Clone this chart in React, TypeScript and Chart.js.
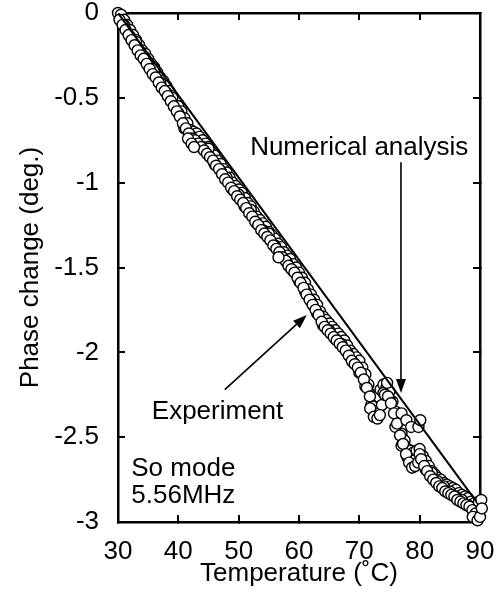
import React, { useEffect, useRef } from "react";
import { Chart, registerables } from "chart.js";

Chart.register(...registerables);

// ---- data ----
const xTickValues = [30, 40, 50, 60, 70, 80, 90];
const xTickLabels = ["30", "40", "50", "60", "70", "80", "90"];
const yTickValues = [0, -0.5, -1, -1.5, -2, -2.5, -3];
const yTickLabels = ["0", "-0.5", "-1", "-1.5", "-2", "-2.5", "-3"];

// Numerical analysis (straight line)
const numTemp = [30, 89.4];
const numPhase = [0, -2.88];

// Experiment (open circles) - upper run of readings
const expTempA = [
  30.0, 30.5, 31.0, 31.5, 32.0, 32.5, 33.0, 33.5, 34.0, 34.5,
  35.0, 35.5, 36.0, 36.5, 37.0, 37.5, 38.0, 38.5, 39.0, 39.5,
  40.0, 40.5, 41.0, 41.5, 42.0, 42.5, 43.0, 43.5, 44.0, 44.5,
  45.0, 45.5, 46.0, 46.5, 47.0, 47.5, 48.0, 48.5, 49.0, 49.5,
  50.0, 50.5, 51.0, 51.5, 52.0, 52.5, 53.0, 53.5, 54.0, 54.5,
  55.0, 55.5, 56.0, 56.5, 57.0, 57.5, 58.0, 58.5, 59.0, 59.5,
  60.0, 60.5, 61.0, 61.5, 62.0, 62.5, 63.0, 63.5, 64.0, 64.5,
  65.0, 65.5, 66.0, 66.5, 67.0, 67.5, 68.0, 68.5, 69.0, 69.5,
  70.0, 70.5, 71.0, 71.5, 72.0, 72.5, 73.0, 73.5, 74.0, 74.5,
  75.0, 75.5, 76.0, 76.5, 77.0, 77.5, 78.0, 78.5, 79.0, 79.5,
  80.0, 80.5, 81.0, 81.5, 82.0, 82.5, 83.0, 83.5, 84.0, 84.5,
  85.0, 85.5, 86.0, 86.5, 87.0, 87.5, 88.0, 88.5, 89.0, 89.5,
  90.0,
];
const expPhaseA = [
  0.0, -0.01, -0.04, -0.07, -0.1, -0.13, -0.16, -0.19, -0.22, -0.24,
  -0.27, -0.3, -0.32, -0.35, -0.38, -0.4, -0.43, -0.46, -0.49, -0.52,
  -0.55, -0.58, -0.62, -0.65, -0.69, -0.7, -0.71, -0.73, -0.75, -0.77,
  -0.79, -0.82, -0.84, -0.87, -0.89, -0.92, -0.94, -0.97, -1.0, -1.02,
  -1.04, -1.06, -1.09, -1.12, -1.14, -1.17, -1.2, -1.22, -1.24, -1.26,
  -1.29, -1.31, -1.33, -1.36, -1.38, -1.41, -1.43, -1.45, -1.48, -1.5,
  -1.53, -1.56, -1.59, -1.63, -1.66, -1.69, -1.72, -1.76, -1.79, -1.81,
  -1.83, -1.85, -1.87, -1.89, -1.91, -1.93, -1.96, -1.99, -2.01, -2.03,
  -2.05, -2.09, -2.13, -2.19, -2.25, -2.26, -2.26, -2.22, -2.19, -2.21,
  -2.23, -2.29, -2.35, -2.41, -2.48, -2.52, -2.57, -2.58, -2.59, -2.58,
  -2.57, -2.61, -2.64, -2.67, -2.7, -2.72, -2.74, -2.75, -2.77, -2.78,
  -2.79, -2.8, -2.81, -2.83, -2.84, -2.85, -2.86, -2.88, -2.89, -2.91,
  -2.93,
];

// Experiment - lower run of readings
const expTempB = [
  30.25, 30.75, 31.25, 31.75, 32.25, 32.75, 33.25, 33.75, 34.25, 34.75,
  35.25, 35.75, 36.25, 36.75, 37.25, 37.75, 38.25, 38.75, 39.25, 39.75,
  40.25, 40.75, 41.25, 41.75, 42.25, 42.75, 43.25, 43.75, 44.25, 44.75,
  45.25, 45.75, 46.25, 46.75, 47.25, 47.75, 48.25, 48.75, 49.25, 49.75,
  50.25, 50.75, 51.25, 51.75, 52.25, 52.75, 53.25, 53.75, 54.25, 54.75,
  55.25, 55.75, 56.25, 56.75, 57.25, 57.75, 58.25, 58.75, 59.25, 59.75,
  60.25, 60.75, 61.25, 61.75, 62.25, 62.75, 63.25, 63.75, 64.25, 64.75,
  65.25, 65.75, 66.25, 66.75, 67.25, 67.75, 68.25, 68.75, 69.25, 69.75,
  70.25, 70.75, 71.25, 71.75, 72.25, 72.75, 73.25, 73.75, 74.25, 74.75,
  75.25, 75.75, 76.25, 76.75, 77.25, 77.75, 78.25, 78.75, 79.25, 79.75,
  80.25, 80.75, 81.25, 81.75, 82.25, 82.75, 83.25, 83.75, 84.25, 84.75,
  85.25, 85.75, 86.25, 86.75, 87.25, 87.75, 88.25, 88.75, 89.25, 89.75,
];
const expPhaseB = [
  -0.04, -0.07, -0.1, -0.13, -0.16, -0.19, -0.22, -0.25, -0.27, -0.3,
  -0.33, -0.36, -0.38, -0.41, -0.44, -0.46, -0.49, -0.52, -0.55, -0.58,
  -0.61, -0.65, -0.68, -0.71, -0.74, -0.75, -0.77, -0.79, -0.81, -0.83,
  -0.85, -0.87, -0.9, -0.92, -0.95, -0.98, -1.0, -1.03, -1.05, -1.08,
  -1.1, -1.12, -1.15, -1.18, -1.2, -1.23, -1.25, -1.28, -1.3, -1.32,
  -1.34, -1.37, -1.39, -1.41, -1.44, -1.46, -1.49, -1.51, -1.53, -1.56,
  -1.59, -1.62, -1.66, -1.69, -1.72, -1.75, -1.78, -1.82, -1.85, -1.87,
  -1.89, -1.91, -1.93, -1.95, -1.97, -1.99, -2.02, -2.05, -2.07, -2.09,
  -2.12, -2.16, -2.21, -2.26, -2.32, -2.35, -2.36, -2.31, -2.25, -2.26,
  -2.3, -2.36, -2.42, -2.49, -2.54, -2.6, -2.65, -2.68, -2.67, -2.65,
  -2.63, -2.67, -2.7, -2.73, -2.75, -2.77, -2.79, -2.8, -2.82, -2.83,
  -2.84, -2.85, -2.87, -2.88, -2.89, -2.9, -2.91, -2.93, -2.95, -2.97,
];

// Experiment - irregular run of readings
const expTempD = [
  31, 32, 33, 34, 35, 36, 37, 38, 39, 40,
  41, 42, 43, 44, 45, 46, 47, 48, 49, 50,
  51, 52, 53, 54, 55, 56, 57, 58, 59, 60,
  61, 62, 63, 64, 65, 66, 67, 68, 69, 70,
  71, 72, 73, 74, 75, 76, 77, 78, 79, 80,
  81, 82, 83, 84, 85, 86, 87, 88, 89,
];
const expPhaseD = [
  -0.07, -0.14, -0.17, -0.25, -0.31, -0.33, -0.41, -0.47, -0.5, -0.59,
  -0.68, -0.72, -0.76, -0.79, -0.8, -0.89, -0.93, -0.97, -1.04, -1.07,
  -1.14, -1.16, -1.24, -1.28, -1.3, -1.37, -1.43, -1.47, -1.52, -1.58,
  -1.64, -1.7, -1.77, -1.84, -1.87, -1.92, -1.95, -2.0, -2.06, -2.12,
  -2.2, -2.31, -2.33, -2.24, -2.28, -2.44, -2.55, -2.62, -2.64, -2.6,
  -2.69, -2.71, -2.76, -2.79, -2.82, -2.85, -2.87, -2.9, -2.94,
];

// Experiment - scattered readings
const expTempC = [
  41.6, 42.2, 42.6, 56.6, 71.8, 72.4, 73.0, 73.4, 74.6, 77.0,
  77.8, 78.6, 79.8, 80.1, 88.8, 89.6, 89.8, 90.0, 90.2, 90.3,
];
const expPhaseC = [
  -0.74, -0.77, -0.79, -1.44, -2.33, -2.38, -2.39, -2.37, -2.18, -2.36,
  -2.4, -2.44, -2.44, -2.4, -2.97, -2.99, -2.88, -2.97, -2.87, -2.92,
];

// annotation texts (anchored in data coordinates: temperature, phase)
const noteTexts = ["Numerical analysis", "Experiment", "So mode", "5.56MHz"];
const noteTemp = [51.9, 35.6, 32.2, 32.2];
const notePhase = [-0.837, -2.39, -2.73, -2.887];

// arrows: from (temp, phase) to tip (temp, phase)
const arrowFromTemp = [76.9, 47.7];
const arrowFromPhase = [-0.88, -2.22];
const arrowToTemp = [76.9, 61.3];
const arrowToPhase = [-2.24, -1.78];

const FONT = "'Liberation Sans', Arial, Helvetica, sans-serif";
const FS = 26;

const annotationPlugin = {
  id: "annotations",
  afterDraw(chart: any) {
    const { ctx } = chart;
    const xs = chart.scales.x;
    const ys = chart.scales.y;
    ctx.save();
    ctx.fillStyle = "#000";
    ctx.strokeStyle = "#000";
    ctx.font = `${FS}px ${FONT}`;
    ctx.textAlign = "left";
    ctx.textBaseline = "alphabetic";
    noteTexts.forEach((t, i) => {
      ctx.fillText(t, xs.getPixelForValue(noteTemp[i]), ys.getPixelForValue(notePhase[i]));
    });
    arrowFromTemp.forEach((_, i) => {
      const x1 = xs.getPixelForValue(arrowFromTemp[i]);
      const y1 = ys.getPixelForValue(arrowFromPhase[i]);
      const x2 = xs.getPixelForValue(arrowToTemp[i]);
      const y2 = ys.getPixelForValue(arrowToPhase[i]);
      const ang = Math.atan2(y2 - y1, x2 - x1);
      const headLen = 14;
      const headHalf = 5;
      const bx = x2 - headLen * Math.cos(ang);
      const by = y2 - headLen * Math.sin(ang);
      ctx.lineWidth = 1.6;
      ctx.beginPath();
      ctx.moveTo(x1, y1);
      ctx.lineTo(bx, by);
      ctx.stroke();
      ctx.beginPath();
      ctx.moveTo(x2, y2);
      ctx.lineTo(bx + headHalf * Math.sin(ang), by - headHalf * Math.cos(ang));
      ctx.lineTo(bx - headHalf * Math.sin(ang), by + headHalf * Math.cos(ang));
      ctx.closePath();
      ctx.fill();
    });
    ctx.restore();
  },
};

function labelFor(values: number[], labels: string[], v: number) {
  const i = values.findIndex((t) => Math.abs(t - v) < 1e-6);
  return i >= 0 ? labels[i] : "";
}

const gridOpts = {
  display: true,
  drawOnChartArea: false,
  drawTicks: true,
  tickLength: -7,
  color: "#000",
  lineWidth: 2,
};
const borderOpts = { display: true, color: "#000", width: 2.5 };

function fixBox(size: { width?: number; height?: number }) {
  return (s: any) => {
    if (size.width !== undefined) s.width = size.width;
    if (size.height !== undefined) s.height = size.height;
    s.paddingLeft = 0;
    s.paddingRight = 0;
    s.paddingTop = 0;
    s.paddingBottom = 0;
  };
}

export default function App() {
  const ref = useRef<HTMLCanvasElement | null>(null);

  useEffect(() => {
    if (!ref.current) return;
    const font = { family: FONT, size: FS };
    const expTemp = [...expTempA, ...expTempD, ...expTempB, ...expTempC];
    const expPhase = [...expPhaseA, ...expPhaseD, ...expPhaseB, ...expPhaseC];
    const chart = new Chart(ref.current, {
      type: "scatter",
      data: {
        datasets: [
          {
            type: "line",
            label: "Numerical analysis",
            data: numTemp.map((t, i) => ({ x: t, y: numPhase[i] })),
            borderColor: "#000",
            borderWidth: 2,
            pointRadius: 0,
            fill: false,
            tension: 0,
          } as any,
          {
            type: "scatter",
            label: "Experiment",
            data: expTemp.map((t, i) => ({ x: t, y: expPhase[i] })),
            pointRadius: 5.5,
            pointBackgroundColor: "#fff",
            pointBorderColor: "#000",
            pointBorderWidth: 1.4,
            clip: false,
          } as any,
        ],
      },
      options: {
        responsive: false,
        maintainAspectRatio: false,
        animation: false,
        events: [],
        layout: { padding: 0 },
        plugins: {
          legend: { display: false },
          tooltip: { enabled: false },
        },
        scales: {
          x: {
            type: "linear",
            position: "bottom",
            min: 30,
            max: 90,
            ticks: {
              stepSize: 10,
              autoSkip: false,
              maxRotation: 0,
              padding: 21,
              color: "#000",
              font,
              callback: (v: any) => labelFor(xTickValues, xTickLabels, Number(v)),
            },
            grid: gridOpts,
            border: borderOpts,
            title: {
              display: true,
              text: "Temperature (˚C)",
              color: "#000",
              font,
              padding: { top: 0, bottom: 4 },
            },
            afterFit: fixBox({ height: 71 }),
          },
          y: {
            type: "linear",
            position: "left",
            min: -3,
            max: 0,
            ticks: {
              stepSize: 0.5,
              autoSkip: false,
              padding: 26,
              color: "#000",
              font,
              callback: (v: any) => labelFor(yTickValues, yTickLabels, Number(v)),
            },
            grid: gridOpts,
            border: borderOpts,
            title: {
              display: true,
              text: "Phase change (deg.)",
              color: "#000",
              font,
              padding: { top: 15, bottom: 0 },
            },
            afterFit: fixBox({ width: 118 }),
          },
          x2: {
            type: "linear",
            position: "top",
            min: 30,
            max: 90,
            ticks: { display: false, stepSize: 10 },
            grid: gridOpts,
            border: borderOpts,
            afterFit: fixBox({ height: 13 }),
          },
          y2: {
            type: "linear",
            position: "right",
            min: -3,
            max: 0,
            ticks: { display: false, stepSize: 0.5 },
            grid: gridOpts,
            border: borderOpts,
            afterFit: fixBox({ width: 19 }),
          },
        } as any,
      },
      plugins: [annotationPlugin],
    });
    return () => chart.destroy();
  }, []);

  return (
    <div style={{ position: "absolute", left: 0, top: 0, width: 499, height: 593, background: "#fff" }}>
      <canvas ref={ref} width={499} height={593} style={{ display: "block", width: 499, height: 593 }} />
    </div>
  );
}
